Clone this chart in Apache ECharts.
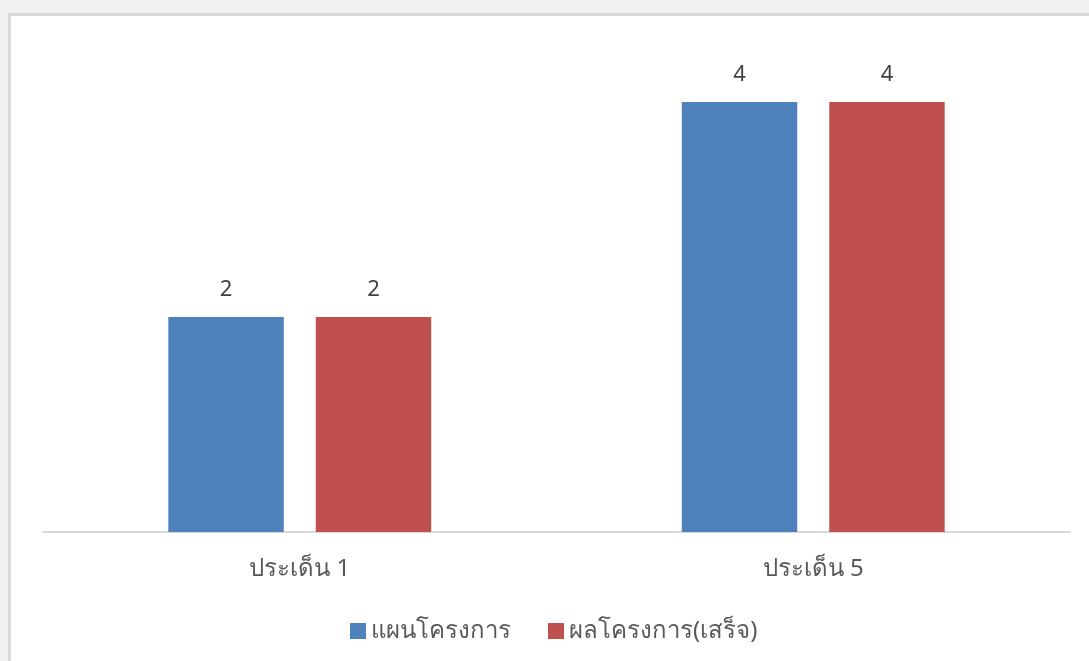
<!DOCTYPE html>
<html>
<head>
<meta charset="utf-8">
<script src="https://cdn.jsdelivr.net/npm/echarts@6/dist/echarts.min.js"></script>
<style>
html,body{margin:0;padding:0;background:#f1f1f1;width:1089px;height:661px;overflow:hidden;}
#panel{position:absolute;left:8px;top:13px;width:1200px;height:800px;background:#fff;border-left:3px solid #d9d9d9;border-top:3px solid #d9d9d9;}
#chart{position:absolute;left:0;top:0;width:1089px;height:661px;}
</style>
</head>
<body>
<div id="panel"></div>
<div id="chart"></div>
<script>
var categories = ['ประเด็น 1', 'ประเด็น 5'];
var seriesNames = ['แผนโครงการ', 'ผลโครงการ(เสร็จ)'];
var planValues = [2, 4];
var resultValues = [2, 4];

var font = '"Noto Sans", "DejaVu Sans", sans-serif';
var chart = echarts.init(document.getElementById('chart'), null, {renderer: 'canvas'});
chart.setOption({
  backgroundColor: 'transparent',
  animation: false,
  textStyle: {fontFamily: font},
  legend: {
    left: 345, top: 614,
    itemWidth: 16, itemHeight: 16, itemGap: 37,
    icon: 'rect',
    textStyle: {fontSize: 24, color: '#595959', fontFamily: font},
    data: seriesNames
  },
  grid: {left: 43, right: 19, top: 48.25, bottom: 129, containLabel: false},
  xAxis: {
    type: 'category',
    data: categories,
    axisLine: {lineStyle: {color: '#d9d9d9', width: 2}},
    axisTick: {show: false},
    axisLabel: {color: '#595959', fontSize: 24, margin: 25, fontFamily: font}
  },
  yAxis: {
    type: 'value', min: 0, max: 4.5, show: false,
    splitLine: {show: false}
  },
  series: [
    {
      name: seriesNames[0], type: 'bar', data: planValues,
      barGap: '27.7%', barCategoryGap: '48.8%',
      itemStyle: {color: '#4f81bd'},
      label: {show: true, position: 'top', distance: 16, color: '#404040', fontSize: 22, fontFamily: font}
    },
    {
      name: seriesNames[1], type: 'bar', data: resultValues,
      itemStyle: {color: '#c0504d'},
      label: {show: true, position: 'top', distance: 16, color: '#404040', fontSize: 22, fontFamily: font}
    }
  ]
});
</script>
</body>
</html>
